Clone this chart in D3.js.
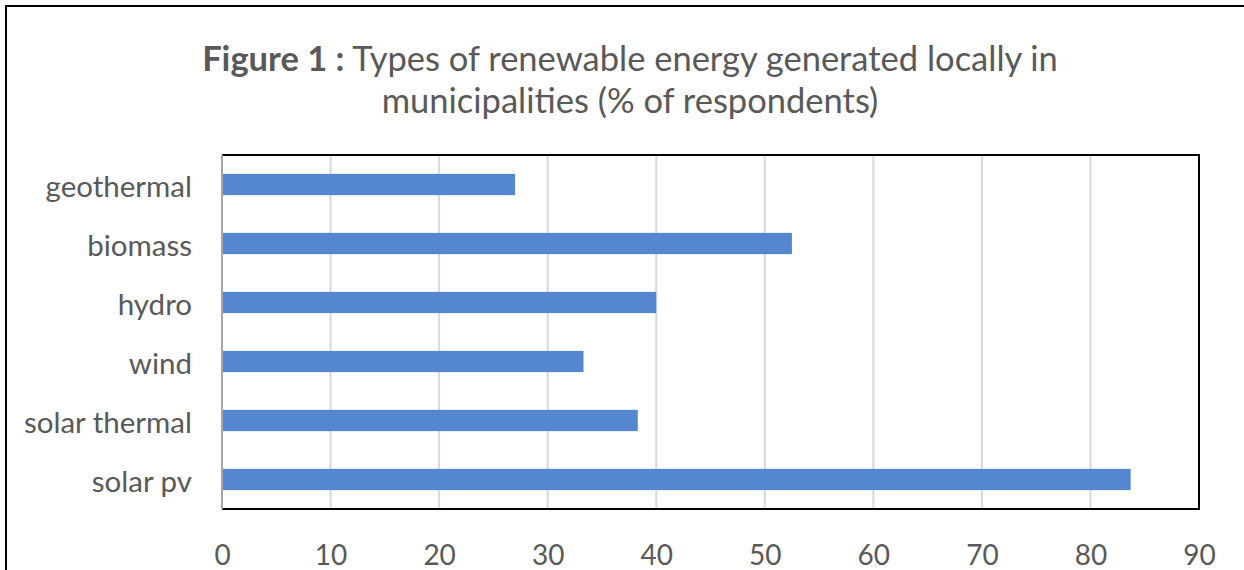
<!DOCTYPE html>
<html>
<head>
<meta charset="utf-8">
<script src="https://cdn.jsdelivr.net/npm/d3@7"></script>
<style>
  body { margin: 0; background: #fff; }
  svg text { font-family: Lato, "Open Sans", sans-serif; fill: #595959; }
</style>
</head>
<body>
<div id="chart"></div>
<script>
// categories top to bottom
const categories = ['geothermal', 'biomass', 'hydro', 'wind', 'solar thermal', 'solar pv'];
const values = [27.0, 52.5, 40.0, 33.3, 38.3, 83.7];
const xTicks = [0, 10, 20, 30, 40, 50, 60, 70, 80, 90];
const titleBold = 'Figure 1 :';
const titleRest = ' Types of renewable energy generated locally in';
const titleLine2 = 'municipalities (% of respondents)';

const width = 1244, height = 570;
const margin = { top: 155, right: 45, bottom: 61, left: 222 };

const svg = d3.select('#chart')
    .append('svg')
    .attr('width', width)
    .attr('height', height);

// outer frame (runs off the right and bottom edges)
svg.append('rect')
    .attr('x', 6).attr('y', 6)
    .attr('width', width + 20).attr('height', height + 20)
    .attr('fill', 'none')
    .attr('stroke', '#000')
    .attr('stroke-width', 2);

const x = d3.scaleLinear()
    .domain([0, 90])
    .range([margin.left, width - margin.right]);

const y = d3.scaleBand()
    .domain(categories)
    .range([margin.top, height - margin.bottom])
    .paddingInner(0.64)
    .paddingOuter(0.32);

// gridlines
svg.append('g')
    .selectAll('line')
    .data(xTicks.slice(1, -1))
    .enter()
    .append('line')
    .attr('x1', d => x(d)).attr('x2', d => x(d))
    .attr('y1', margin.top).attr('y2', height - margin.bottom)
    .attr('stroke', '#d9d9d9')
    .attr('stroke-width', 2);

// bars
svg.append('g')
    .selectAll('rect')
    .data(categories)
    .enter()
    .append('rect')
    .attr('x', x(0))
    .attr('y', d => y(d))
    .attr('width', (d, i) => x(values[i]) - x(0))
    .attr('height', y.bandwidth())
    .attr('fill', '#5586d0');

// plot box: black top/right/bottom, grey left axis
const x0 = x(0), x1 = x(90), y0 = margin.top, y1 = height - margin.bottom;
svg.append('path')
    .attr('d', `M${x0},${y0}H${x1}V${y1}H${x0}`)
    .attr('fill', 'none')
    .attr('stroke', '#000')
    .attr('stroke-width', 2);
svg.append('line')
    .attr('x1', x0).attr('x2', x0)
    .attr('y1', y0).attr('y2', y1)
    .attr('stroke', '#a6a6a6')
    .attr('stroke-width', 2);

// x axis labels
const xAxis = d3.axisBottom(x).tickValues(xTicks).tickSize(0).tickPadding(0);
const gx = svg.append('g')
    .attr('transform', `translate(0,${y1})`)
    .call(xAxis);
gx.select('.domain').remove();
gx.selectAll('text')
    .attr('y', 46)
    .attr('dy', '0.35em')
    .style('font-size', '28px')
    .style('font-family', 'Lato, "Open Sans", sans-serif')
    .attr('fill', '#595959');

// y axis labels
const yAxis = d3.axisLeft(y).tickSize(0).tickPadding(30);
const gy = svg.append('g')
    .attr('transform', `translate(${x0},0)`)
    .call(yAxis);
gy.select('.domain').remove();
gy.selectAll('text')
    .attr('dy', '0.42em')
    .style('font-size', '29.5px')
    .style('font-family', 'Lato, "Open Sans", sans-serif')
    .attr('fill', '#595959');

// title
const t1 = svg.append('text')
    .attr('x', 630).attr('y', 71)
    .attr('text-anchor', 'middle')
    .style('font-size', '34.5px');
t1.append('tspan').style('font-weight', 'bold').text(titleBold);
t1.append('tspan').text(titleRest);

svg.append('text')
    .attr('x', 630).attr('y', 113)
    .attr('text-anchor', 'middle')
    .style('font-size', '34.5px')
    .text(titleLine2);
</script>
</body>
</html>
